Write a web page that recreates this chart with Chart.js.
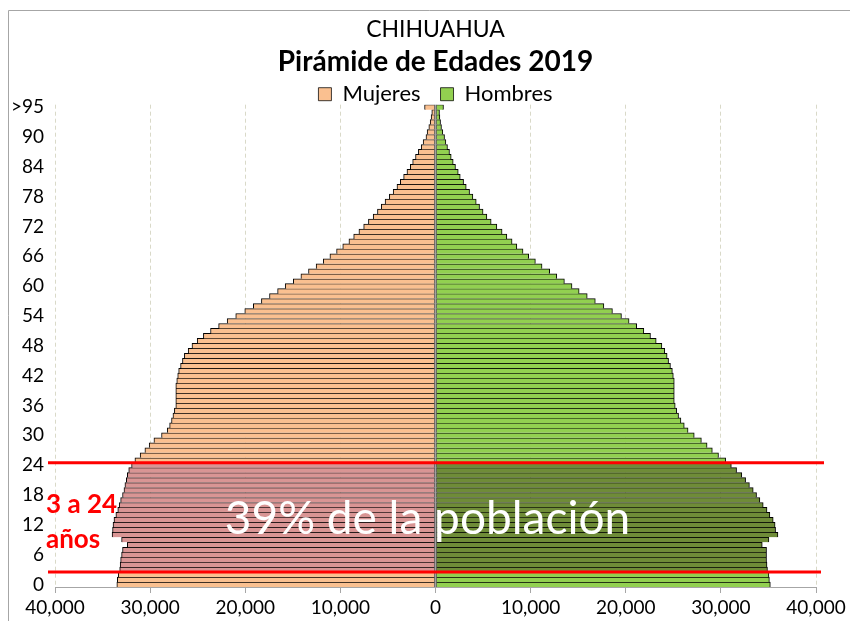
<!DOCTYPE html>
<html>
<head>
<meta charset="utf-8">
<title>Pirámide de Edades 2019</title>
<style>
  html, body { margin: 0; padding: 0; background: #fff; }
  #wrap { width: 850px; height: 621px; }
</style>
</head>
<body>
<div id="wrap"><canvas id="myChart" width="850" height="621"></canvas></div>
<script src="https://cdn.jsdelivr.net/npm/chart.js@4.4.0/dist/chart.umd.min.js"></script>
<script>
// edades 0..95 y ">95"
let edades = [];
for (let i = 0; i <= 95; i++) edades.push(String(i));
edades.push(">95");

// poblacion por edad simple
const mujeres = [
  33500, 33450, 33350, 33200, 33150, 33100, 33000, 32900, 32400, 33000,
  34000, 33950, 33900, 33800, 33600, 33400, 33250, 33100, 32900, 32750,
  32650, 32500, 32400, 32250, 31950, 31600, 31050, 30550, 30100, 29600,
  28800, 28200, 27950, 27750, 27600, 27450, 27300, 27300, 27300, 27300,
  27300, 27200, 27100, 27000, 26800, 26600, 26400, 26000, 25600, 25050,
  24400, 23650, 22800, 21900, 21000, 20050, 19150, 18300, 17450, 16600,
  15800, 14950, 14150, 13350, 12550, 11800, 11100, 10400, 9750, 9100,
  8600, 8050, 7550, 7050, 6550, 6100, 5700, 5300, 4850, 4450,
  4050, 3700, 3350, 3000, 2650, 2400, 2100, 1800, 1500, 1300,
  1000, 880, 700, 560, 460, 390, 1150
];
const hombres = [
  35200, 35100, 35050, 34900, 34850, 34800, 34800, 34800, 34350, 35050,
  36000, 35750, 35700, 35500, 35150, 34850, 34450, 34100, 33750, 33400,
  33000, 32600, 32200, 31650, 31100, 30500, 29750, 29100, 28550, 27950,
  27200, 26550, 26150, 25800, 25550, 25350, 25200, 25100, 25100, 25100,
  25100, 25100, 25000, 24900, 24700, 24500, 24350, 24100, 23800, 23200,
  22600, 21900, 21150, 20350, 19550, 18600, 17700, 16800, 15950, 15100,
  14350, 13550, 12750, 12000, 11200, 10500, 9800, 9200, 8550, 8050,
  7500, 7000, 6450, 5850, 5400, 5000, 4630, 4280, 3930, 3580,
  3230, 2950, 2600, 2390, 2100, 1860, 1650, 1470, 1260, 1090,
  950, 770, 630, 530, 460, 420, 840
];

const xTicks = [-40000, -30000, -20000, -10000, 0, 10000, 20000, 30000, 40000];

// grupo resaltado
const bandaDesde = 3;
const bandaHasta = 24;
const textoBanda = "39% de la población";
const textoEdad = ["3 a 24", "años"];

function enBanda(i) {
  return i >= bandaDesde && i <= bandaHasta;
}

Chart.defaults.font.family = "Lato";
Chart.defaults.color = "#000";

// marco, linea central, lineas rojas y textos
const extras = {
  id: "extras",
  beforeDraw(chart) {
    const ctx = chart.ctx;
    ctx.save();
    ctx.fillStyle = "#fff";
    ctx.fillRect(0, 0, chart.width, chart.height);
    ctx.strokeStyle = "#a6a6a6";
    ctx.lineWidth = 1;
    ctx.beginPath();
    ctx.moveTo(8.5, chart.height);
    ctx.lineTo(8.5, 10.5);
    ctx.lineTo(chart.width, 10.5);
    ctx.stroke();
    ctx.restore();
  },
  afterDatasetsDraw(chart) {
    const ctx = chart.ctx;
    const area = chart.chartArea;
    const x = chart.scales.x;
    const y = chart.scales.y;
    const x0 = x.getPixelForValue(0);
    ctx.save();

    ctx.strokeStyle = "#a0a0a0";
    ctx.lineWidth = 2;
    ctx.beginPath();
    ctx.moveTo(x0, area.top);
    ctx.lineTo(x0, area.bottom);
    ctx.stroke();

    const yA = y.getPixelForValue(bandaDesde - 0.5);
    const yB = y.getPixelForValue(bandaHasta + 0.5);
    ctx.strokeStyle = "#ff0000";
    ctx.lineWidth = 3;
    ctx.beginPath();
    ctx.moveTo(area.left - 7, yB);
    ctx.lineTo(area.right + 8, yB);
    ctx.moveTo(area.left - 7, yA);
    ctx.lineTo(area.right + 5, yA);
    ctx.stroke();

    const yc = (yA + yB) / 2;
    ctx.fillStyle = "#fff";
    ctx.font = "46px Lato";
    ctx.textAlign = "center";
    ctx.textBaseline = "alphabetic";
    ctx.fillText(textoBanda, x0 - 8, yc + 17);

    ctx.fillStyle = "#ff0000";
    ctx.font = "bold 26px Lato";
    ctx.textAlign = "left";
    ctx.fillText(textoEdad[0], 46, yc - 4);
    ctx.fillText(textoEdad[1], 46, yc + 31);
    ctx.restore();
  }
};

const ctx = document.getElementById("myChart").getContext("2d");
const myChart = new Chart(ctx, {
  type: "bar",
  data: {
    labels: edades,
    datasets: [
      {
        label: "Mujeres",
        data: mujeres.map((v) => -v),
        backgroundColor: (c) => (enBanda(c.dataIndex) ? "#d99594" : "#fac090"),
        borderColor: "#000",
        borderWidth: { top: 1, right: 1, bottom: 0, left: 1 },
        borderSkipped: false,
        barPercentage: 1,
        categoryPercentage: 1,
      },
      {
        label: "Hombres",
        data: hombres,
        backgroundColor: (c) => (enBanda(c.dataIndex) ? "#6f8c38" : "#92d050"),
        borderColor: "#000",
        borderWidth: { top: 1, right: 1, bottom: 0, left: 1 },
        borderSkipped: false,
        barPercentage: 1,
        categoryPercentage: 1,
      },
    ],
  },
  options: {
    indexAxis: "y",
    responsive: false,
    animation: false,
    devicePixelRatio: 1,
    layout: { padding: { top: 10, left: 8, right: 34, bottom: 4 } },
    scales: {
      x: {
        stacked: true,
        min: -40000,
        max: 40000,
        afterBuildTicks(scale) {
          scale.ticks = xTicks.map((v) => ({ value: v }));
        },
        afterFit(scale) {
          scale.height = 30;
        },
        ticks: {
          callback: (v) => Math.abs(v).toLocaleString("en-US"),
          font: { size: 19 },
          color: "#000",
          padding: 3,
          maxRotation: 0,
        },
        grid: {
          color: (c) => (c.tick && c.tick.value === 0 ? "rgba(0,0,0,0)" : "#d9d9c8"),
          lineWidth: 1,
          drawTicks: true,
          tickLength: 6,
          tickColor: "#a6a6a6",
          tickBorderDash: [],
        },
        border: { color: "#a6a6a6", width: 1, dash: [4, 3] },
      },
      y: {
        type: "category",
        stacked: true,
        reverse: true,
        afterFit(scale) {
          scale.width = 47;
        },
        ticks: {
          autoSkip: false,
          callback: (v, i) => (i % 6 === 0 ? edades[i] : ""),
          font: { size: 19 },
          color: "#000",
          padding: 11,
        },
        grid: { display: false, drawTicks: false },
        border: { display: false },
      },
    },
    plugins: {
      title: {
        display: true,
        fullSize: false,
        text: "CHIHUAHUA",
        font: { size: 23, weight: "normal" },
        padding: { top: 6, bottom: 0 },
      },
      subtitle: {
        display: true,
        fullSize: false,
        text: "Pirámide de Edades 2019",
        color: "#000",
        font: { size: 28, weight: "bold" },
        padding: { top: 2, bottom: -16 },
      },
      legend: {
        position: "top",
        fullSize: false,
        maxHeight: 41.5,
        labels: {
          boxWidth: 13,
          boxHeight: 13,
          padding: 20,
          color: "#000",
          font: { size: 22 },
        },
      },
      tooltip: { enabled: false },
    },
  },
  plugins: [extras],
});
</script>
</body>
</html>
